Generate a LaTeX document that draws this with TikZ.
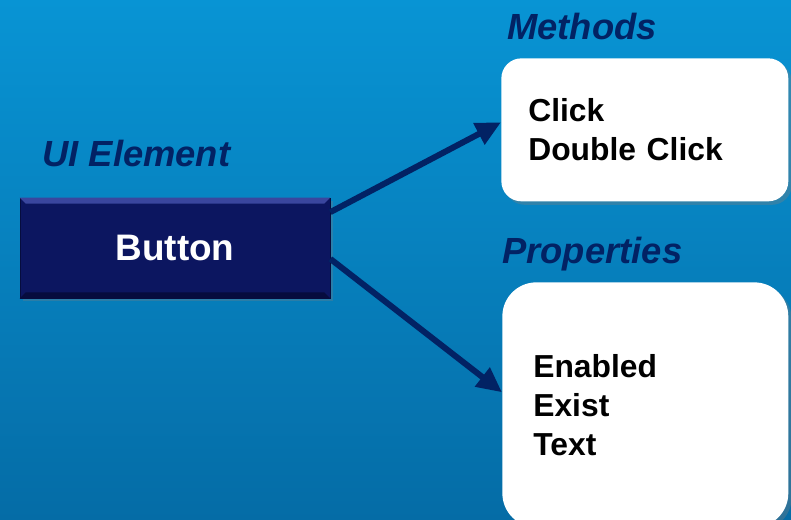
\documentclass[tikz,border=0pt]{standalone}
\usepackage{fontspec}
\setmainfont{Liberation Sans}
\usetikzlibrary{arrows.meta,shadows}

\definecolor{bgtop}{RGB}{8,148,212}
\definecolor{bgbottom}{RGB}{5,108,166}
\definecolor{navy}{RGB}{2,34,100}
\definecolor{buttonblue}{RGB}{12,22,96}
\definecolor{bevellight}{RGB}{58,70,158}
\definecolor{beveldark}{RGB}{6,12,62}

\tikzset{
  heading/.style={font=\fontsize{20.7}{24}\selectfont\bfseries\itshape,
    text=navy, anchor=base west, inner sep=0pt},
  listbox/.style={fill=white, anchor=north west, align=left,
    font=\fontsize{18.1}{22.1}\selectfont\bfseries,
    drop shadow={shadow xshift=2pt, shadow yshift=-2pt, opacity=0.35}},
  link/.style={-{Triangle[length=0.5cm,width=0.46cm]}, line width=3.4pt,
    draw=navy},
}

\begin{document}
\begin{tikzpicture}[x=0.02cm, y=-0.02cm]
	\useasboundingbox (0,0) rectangle (791,520);
	\shade[top color=bgtop, bottom color=bgbottom] (0,0) rectangle (791,520);

	\node [fill=buttonblue, draw=beveldark, minimum width=6.2cm,
	minimum height=2cm, text=white,
	font=\fontsize{21}{24}\selectfont\bfseries,
	drop shadow={shadow xshift=1.5pt, shadow yshift=-1.5pt, opacity=0.3}]
	(button) at (175,248) {Button};

	% bevel of the button
	\fill[bevellight] (button.north west) -- (button.north east) -- ++(-6,6)
	-- ([shift={(6,6)}]button.north west) -- cycle;
	\fill[beveldark] (button.south west) -- (button.south east) -- ++(-6,-6)
	-- ([shift={(6,-6)}]button.south west) -- cycle;

	\node [listbox, rounded corners=20*0.02cm, minimum width=5.74cm,
	minimum height=2.86cm, inner xsep=0.54cm, text width=4.66cm]
	(methods) at (501,58) {Click\\Double Click};

	\node [listbox, rounded corners=34*0.02cm, minimum width=5.72cm,
	minimum height=4.9cm, inner xsep=0.62cm, text width=4.48cm]
	(properties) at (502,282) {Enabled\\Exist\\Text};

	\node [heading] (uilabel) at (42,167) {UI Element};
	\node [heading] (methodslabel) at (507,40) {Methods};
	\node [heading] (propertieslabel) at (502,263) {Properties};

	\draw[link] (button.13) -- (methods.177);
	\draw[link] (button.-4) -- (properties.175);

\end{tikzpicture}
\end{document}
